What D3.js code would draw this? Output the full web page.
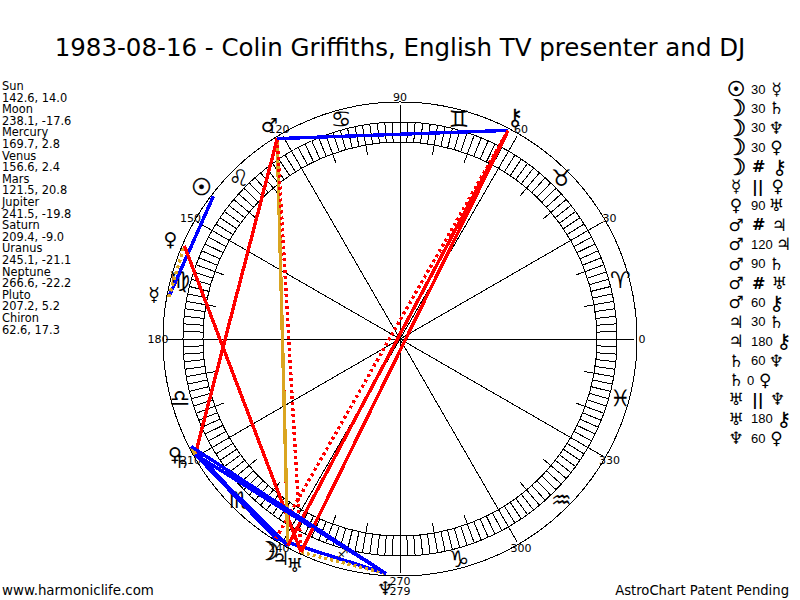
<!DOCTYPE html>
<meta charset="utf-8">
<style>
body { margin: 0; background: #fff; }
svg { display: block; }
text { font-family: "DejaVu Sans", sans-serif; fill: #000; }
.ring { fill: none; stroke: #000; shape-rendering: crispEdges; }
.tick, .spoke { stroke: #000; stroke-width: 1; shape-rendering: crispEdges; }
.aspect { fill: none; stroke-width: 3.4; shape-rendering: crispEdges; }
</style>
<svg id="chart" width="800" height="600"></svg>
<script src="https://cdn.jsdelivr.net/npm/d3@7"></script>
<script>

// planets: name, glyph, longitude, declination
const planetNames = ["Sun", "Moon", "Mercury", "Venus", "Mars", "Jupiter", "Saturn", "Uranus", "Neptune", "Pluto", "Chiron"];
const planetGlyphs = ["\u2609", "\u263D", "\u263F", "\u2640", "\u2642", "\u2643", "\u2644", "\u2645", "\u2646", "\u2640", "\u26B7"];
const planetLon = [142.6, 238.1, 169.7, 156.6, 121.5, 241.5, 209.4, 245.1, 266.6, 207.2, 62.6];
const planetDec = ["14.0", "-17.6", "2.8", "2.4", "20.8", "-19.8", "-9.0", "-21.1", "-22.2", "5.2", "17.3"];

// aspect table, in the order it is listed on the right
const aspectFrom = ["Sun", "Moon", "Moon", "Moon", "Moon", "Mercury", "Venus", "Mars", "Mars", "Mars", "Mars", "Mars", "Jupiter", "Jupiter", "Saturn", "Saturn", "Uranus", "Uranus", "Neptune"];
const aspectKind = ["30", "30", "30", "30", "#", "||", "90", "#", "120", "90", "#", "60", "30", "180", "60", "0", "||", "180", "60"];
const aspectTo = ["Mercury", "Saturn", "Neptune", "Pluto", "Chiron", "Venus", "Uranus", "Jupiter", "Jupiter", "Saturn", "Uranus", "Chiron", "Saturn", "Chiron", "Neptune", "Pluto", "Neptune", "Chiron", "Pluto"];

const signGlyphs = ["\u2648", "\u2649", "\u264A", "\u264B", "\u264C", "\u264D", "\u264E", "\u264F", "\u2650", "\u2651", "\u2652", "\u2653"];
const degreeLabels = [0, 30, 60, 90, 120, 150, 180, 210, 240, 270, 300, 330];

let svg = d3.select("#chart");
let cx = 400, cy = 339;

// longitude 0 is at 3 o'clock, running counter-clockwise
let angle = d3.scaleLinear().domain([0, 360]).range([Math.PI / 2, Math.PI / 2 - 2 * Math.PI]);
let point = (lon, r) => {
  let p = d3.pointRadial(angle(lon), r);
  return [cx + p[0], cy + p[1]];
};

let aspectColor = d3.scaleOrdinal()
    .domain(["0", "30", "60", "90", "120", "180", "||", "#"])
    .range(["#daa520", "#0000ff", "#0000ff", "#ff0000", "#daa520", "#ff0000", "#daa520", "#ff0000"]);

// some DejaVu glyphs come out small next to the original ones
let glyphSize = (g, base) => {
  if (g === "\u263D") return base * 1.35;
  if (g === "\u2609") return base * 1.2;
  if (g === "\u26B7") return base * 1.2;
  return base;
};
let glyphWeight = g => (g === "\u2609" || g === "\u263D") ? 0.6 : 0;

let addGlyph = (g, x, y, base) => svg.append("text")
    .attr("x", x).attr("y", y).attr("dy", ".35em")
    .attr("text-anchor", "middle")
    .style("font-size", glyphSize(g, base) + "px")
    .style("stroke", "#000").style("stroke-width", glyphWeight(g))
    .text(g);

// title and footers
svg.append("text").attr("x", 400).attr("y", 56)
    .attr("text-anchor", "middle").style("font-size", "24.5px")
    .text("1983-08-16 - Colin Griffiths, English TV presenter and DJ");
svg.append("text").attr("x", 2).attr("y", 595).style("font-size", "13.4px").text("www.harmoniclife.com");
svg.append("text").attr("x", 789).attr("y", 595).attr("text-anchor", "end").style("font-size", "13.2px").text("AstroChart Patent Pending");

// planet list on the left
planetNames.forEach((name, i) => {
  let y = 90 + i * 23.2;
  svg.append("text").attr("x", 2).attr("y", y).style("font-size", "11.4px").text(name);
  svg.append("text").attr("x", 2).attr("y", y + 11.6).style("font-size", "11.4px")
      .text(planetLon[i].toFixed(1) + ", " + planetDec[i]);
});

// circles
[237, 217, 197].forEach(r => {
  svg.append("circle").attr("class", "ring").attr("cx", cx).attr("cy", cy).attr("r", r);
});

// hatching every 2 degrees, longer every 10
d3.range(0, 360, 2).forEach(d => {
  let a = point(d, d % 10 === 0 ? 187 : 197), b = point(d, 217);
  svg.append("line").attr("class", "tick")
      .attr("x1", a[0]).attr("y1", a[1]).attr("x2", b[0]).attr("y2", b[1]);
});

// spokes and degree labels
degreeLabels.forEach(d => {
  let b = point(d, 234);
  svg.append("line").attr("class", "spoke")
      .attr("x1", cx).attr("y1", cy).attr("x2", b[0]).attr("y2", b[1]);
  let t = point(d, 242);
  svg.append("text").attr("x", t[0]).attr("y", t[1]).attr("dy", ".35em")
      .attr("text-anchor", "middle").style("font-size", "11px").text(d);
});
svg.append("text").attr("x", cx).attr("y", 595).attr("text-anchor", "middle")
    .style("font-size", "11px").text("279");

// zodiac signs, Sagittarius is only a small mark in the reference
signGlyphs.forEach((g, i) => {
  let p = point(15 + i * 30, g === "\u2650" ? 222 : 228);
  addGlyph(g, p[0], p[1], g === "\u2650" ? 13 : 23);
});

// aspect lines
aspectFrom.forEach((from, i) => {
  let a = point(planetLon[planetNames.indexOf(from)], 235),
      b = point(planetLon[planetNames.indexOf(aspectTo[i])], 235),
      kind = aspectKind[i];
  svg.append("line").attr("class", "aspect")
      .attr("x1", a[0]).attr("y1", a[1]).attr("x2", b[0]).attr("y2", b[1])
      .attr("stroke", aspectColor(kind))
      .attr("stroke-dasharray", kind === "#" || kind === "||" ? "3,3" : null);
});

// planet glyphs on the wheel
planetNames.forEach((name, i) => {
  let p = point(planetLon[i], name === "Pluto" ? 253 : 250);
  addGlyph(planetGlyphs[i], p[0], p[1], 19);
});

// aspect list on the right
aspectFrom.forEach((from, i) => {
  let y = 89 + i * 19.4,
      kind = aspectKind[i],
      bar = kind === "#" || kind === "||";
  addGlyph(planetGlyphs[planetNames.indexOf(from)], 736, y, 17);
  let mid = svg.append("text").attr("x", bar ? 752 : (kind === "0" ? 747 : 751)).attr("y", y).attr("dy", ".35em")
      .style("font-family", bar ? "DejaVu Sans" : "Liberation Sans")
      .style("font-size", bar ? "16px" : "13px").style("font-weight", bar ? "bold" : null).text(kind);
  let end = +mid.attr("x") + mid.node().getComputedTextLength();
  addGlyph(planetGlyphs[planetNames.indexOf(aspectTo[i])], end + (bar ? 14 : 11), y, 17);
});

</script>
